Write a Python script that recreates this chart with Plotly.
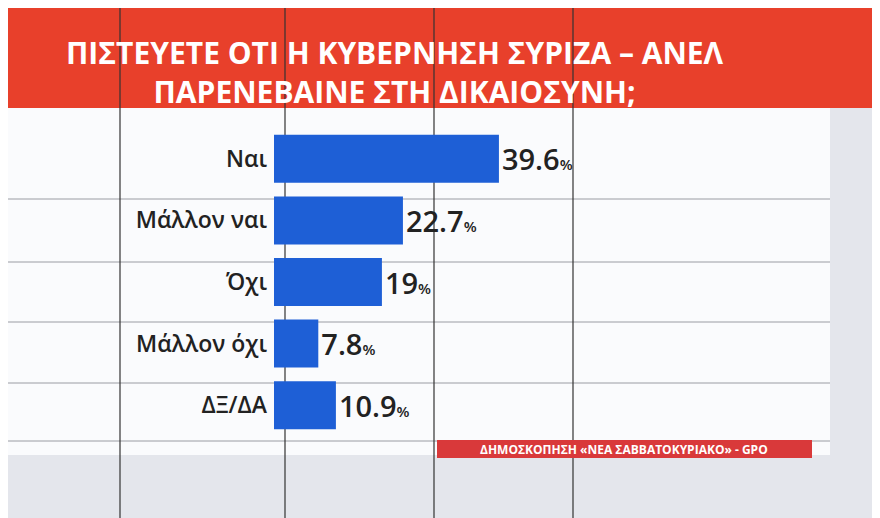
import plotly.graph_objects as go

# Poll data
categories = ['Ναι', 'Μάλλον ναι', 'Όχι', 'Μάλλον όχι', 'ΔΞ/ΔΑ']
values = [39.6, 22.7, 19, 7.8, 10.9]
value_labels = ['39.6', '22.7', '19', '7.8', '10.9']

title_text = 'ΠΙΣΤΕΥΕΤΕ ΟΤΙ Η ΚΥΒΕΡΝΗΣΗ ΣΥΡΙΖΑ – ΑΝΕΛ<br>ΠΑΡΕΝΕΒΑΙΝΕ ΣΤΗ ΔΙΚΑΙΟΣΥΝΗ;'
source_text = 'ΔΗΜΟΣΚΟΠΗΣΗ «ΝΕΑ ΣΑΒΒΑΤΟΚΥΡΙΑΚΟ» - GPO'

# page shows an ~8px body margin, so the figure is laid out shifted by that
OFF = 8
W, H = 880 - OFF, 518 - OFF
L, R, T, B = 274 - OFF, 842 - OFF, 128 - OFF, 436 - OFF


def px(x):
    return (x - OFF - L) / (R - L)


def py(y):
    return (B - (y - OFF)) / (B - T)


fig = go.Figure()
fig.add_trace(go.Bar(
    x=values,
    y=categories,
    orientation='h',
    marker=dict(color='#1e5fd6', line=dict(width=0)),
    text=[v + "<span style='font-size:15px'>%</span>" for v in value_labels],
    textposition='outside',
    textfont=dict(family='Open Sans', size=29, color='#222', weight=600),
    cliponaxis=False,
    width=0.78,
))

shapes = [
    dict(type='rect', xref='paper', yref='paper', x0=px(0), x1=px(830), y0=py(108), y1=py(455),
         fillcolor='#fafbfd', line=dict(width=0), layer='below'),
    dict(type='rect', xref='paper', yref='paper', x0=px(0), x1=px(900), y0=py(0), y1=py(108),
         fillcolor='#e8402b', line=dict(width=0), layer='below'),
    dict(type='rect', xref='paper', yref='paper', x0=px(437), x1=px(812), y0=py(440), y1=py(458),
         fillcolor='#d9393a', line=dict(width=0), layer='above'),
]
for gy in [199, 262, 322, 383, 441]:
    shapes.append(dict(type='line', xref='paper', yref='paper', x0=px(0), x1=px(830),
                       y0=py(gy), y1=py(gy), line=dict(color='#9a9ca3', width=1), layer='below'))
for gx in [120, 285, 434, 573]:
    shapes.append(dict(type='line', xref='paper', yref='paper', x0=px(gx), x1=px(gx),
                       y0=py(0), y1=py(530), line=dict(color='#333', width=1.2), layer='below'))

fig.update_layout(
    width=W, height=H,
    margin=dict(l=L, r=W - R, t=T, b=H - B),
    paper_bgcolor='#e4e6ec',
    plot_bgcolor='rgba(0,0,0,0)',
    showlegend=False,
    shapes=shapes,
    xaxis=dict(range=[0, 100], visible=False),
    yaxis=dict(autorange='reversed', showgrid=False, ticks='',
               tickfont=dict(family='Open Sans', size=23, color='#222', weight=600), ticksuffix=' '),
    annotations=[
        dict(text='<b>' + title_text + '</b>', xref='paper', yref='paper', x=px(395), y=py(72),
             showarrow=False, font=dict(family='Open Sans', size=30, color='white'),
             xanchor='center', yanchor='middle', align='center'),
        dict(text='<b>' + source_text + '</b>', xref='paper', yref='paper', x=px(624), y=py(449),
             showarrow=False, font=dict(family='Open Sans', size=12, color='white'),
             xanchor='center', yanchor='middle'),
    ],
)

fig.write_html('out.html')
